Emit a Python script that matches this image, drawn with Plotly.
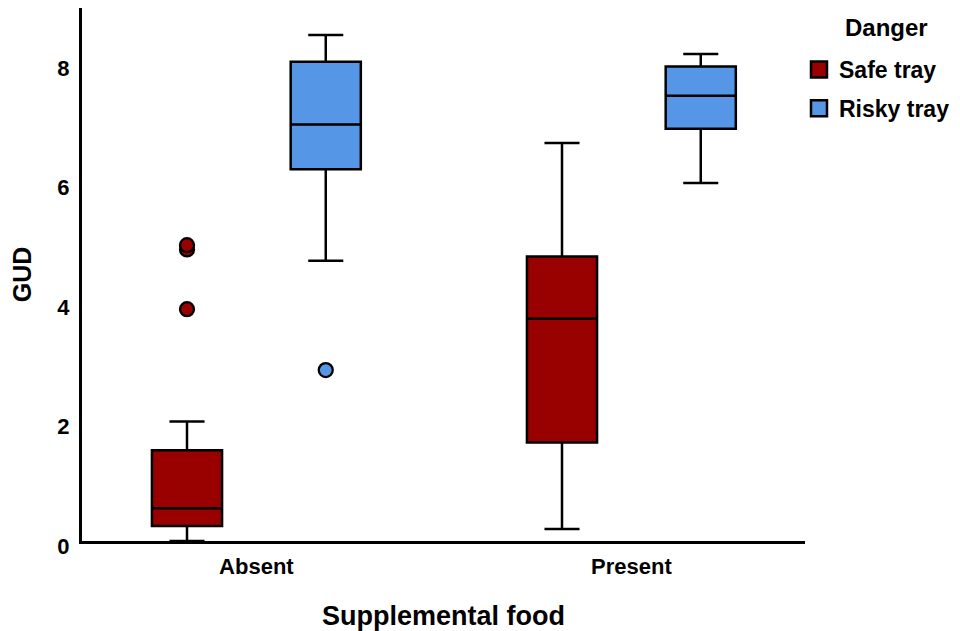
import plotly.graph_objects as go

# ---- data ----
categories = ["Absent", "Present"]
series_names = ["Safe tray", "Risky tray"]
legend_title = "Danger"

safe_lowerfence = [0.0, 0.2]
safe_q1 = [0.25, 1.65]
safe_median = [0.55, 3.72]
safe_q3 = [1.52, 4.76]
safe_upperfence = [2.0, 6.66]
safe_outliers_absent = [3.88, 4.88, 4.95]
safe_outliers_present = []

risky_lowerfence = [4.69, 5.99]
risky_q1 = [6.22, 6.90]
risky_median = [6.97, 7.45]
risky_q3 = [8.02, 7.94]
risky_upperfence = [8.47, 8.15]
risky_outliers_absent = [2.86]
risky_outliers_present = []

y_ticks = [0, 2, 4, 6, 8]

# ---- styles ----
FONT = "Liberation Sans, Arial, Helvetica, sans-serif"
SAFE_COLOR = "#990000"
RISKY_COLOR = "#5596E6"
OFFSET = 0.185
BOX_W = 0.187

fig = go.Figure()

def add_series(name, color, offset, lf, q1, med, q3, uf, outl_by_cat):
    xs = [i + offset for i in range(len(categories))]
    fig.add_trace(go.Box(
        x=xs, q1=q1, median=med, q3=q3, lowerfence=lf, upperfence=uf,
        width=BOX_W, whiskerwidth=0.5, boxpoints=False,
        fillcolor=color, line=dict(color="black", width=2.5),
        name=name, showlegend=False, hoverinfo="skip",
    ))
    ox, oy = [], []
    for i, vals in enumerate(outl_by_cat):
        for v in vals:
            ox.append(i + offset)
            oy.append(v)
    fig.add_trace(go.Scatter(
        x=ox, y=oy, mode="markers",
        marker=dict(symbol="circle", size=14, color=color,
                    line=dict(color="black", width=2.3)),
        showlegend=False, hoverinfo="skip",
    ))
    # legend entry
    fig.add_trace(go.Scatter(
        x=[None], y=[None], mode="markers", name=name, legendgroup=name,
        marker=dict(symbol="square", size=22, color=color,
                    line=dict(color="black", width=2.5)),
    ))

add_series(series_names[0], SAFE_COLOR, -OFFSET, safe_lowerfence, safe_q1,
           safe_median, safe_q3, safe_upperfence,
           [safe_outliers_absent, safe_outliers_present])
add_series(series_names[1], RISKY_COLOR, OFFSET, risky_lowerfence, risky_q1,
           risky_median, risky_q3, risky_upperfence,
           [risky_outliers_absent, risky_outliers_present])

fig.add_annotation(
    text=legend_title, xref="paper", yref="paper",
    x=1.0526, y=0.9625, xanchor="left", yanchor="middle",
    showarrow=False, font=dict(size=24, weight="bold"),
)

fig.update_layout(
    width=952, height=623,
    margin=dict(l=74, r=155, t=0, b=90, autoexpand=False),
    plot_bgcolor="white", paper_bgcolor="white",
    font=dict(family=FONT, color="black", size=22, weight="bold"),
    legend=dict(
        font=dict(size=23, weight="bold"),
        x=0.9917, xanchor="left", y=0.925, yanchor="top",
        itemsizing="trace", tracegroupgap=6, traceorder="grouped",
        bgcolor="rgba(0,0,0,0)",
    ),
    xaxis=dict(
        range=[-0.465, 1.463],
        tickvals=list(range(len(categories))), ticktext=categories,
        showline=True, linecolor="black", linewidth=3,
        showgrid=False, zeroline=False, ticks="", automargin=False,
        ticklabelstandoff=4,
        tickfont=dict(size=22, weight="bold"),
        title=dict(text="Supplemental food", font=dict(size=27, weight="bold"),
                   standoff=29),
    ),
    yaxis=dict(
        range=[0, 8.92],
        tickvals=y_ticks, ticktext=[str(t) for t in y_ticks],
        showline=True, linecolor="black", linewidth=3,
        showgrid=False, zeroline=False, ticks="", automargin=False,
        ticklabelstandoff=5, ticklabelshift=5,
        tickfont=dict(size=22, weight="bold"),
        title=dict(text="GUD", font=dict(size=25, weight="bold"), standoff=20),
    ),
)

fig.write_html("out.html")
